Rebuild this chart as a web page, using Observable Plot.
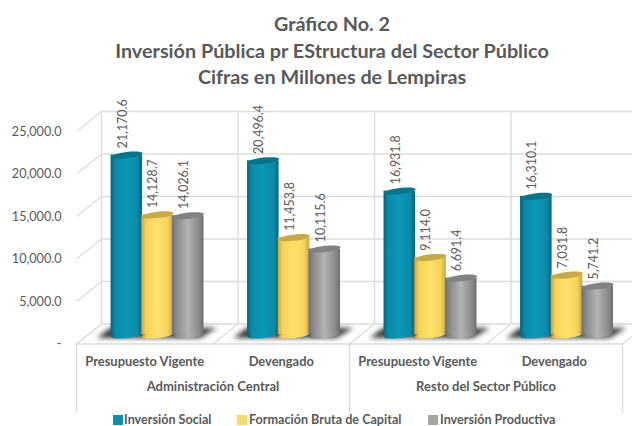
<!DOCTYPE html>
<html lang="es">
<head>
<meta charset="utf-8">
<script src="https://cdn.jsdelivr.net/npm/d3@7"></script>
<script src="https://cdn.jsdelivr.net/npm/@observablehq/plot@0.6"></script>
<style>
html,body{margin:0;padding:0;background:#fff;width:632px;height:426px;overflow:hidden;font-family:Lato,sans-serif;color:#595959}
#title{height:90px;box-sizing:border-box;padding-top:10px;padding-left:32px;text-align:center;font-weight:700;font-size:19.8px;line-height:26.5px}
#chart{height:323px}
#chart svg{display:block}
#legend{position:relative;height:13px;font-size:12.6px;line-height:13px;font-weight:700;white-space:nowrap}
#legend span{position:absolute;top:0}
#legend i{position:absolute;top:2px;width:10px;height:10px}
</style>
</head>
<body>
<div id="title">Gráfico No. 2<br>Inversión Pública pr EStructura del Sector Público<br>Cifras en Millones de Lempiras</div>
<div id="chart"></div>
<div id="legend"></div>
<script>
const groups = ["Administración Central", "Resto del Sector Público"];
const categories = ["Presupuesto Vigente", "Devengado", "Presupuesto Vigente", "Devengado"];
const seriesNames = ["Inversión Social", "Formación Bruta de Capital", "Inversión Productiva"];
const inversionSocial = [21170.6, 20496.4, 16931.8, 16310.1];
const formacionBruta = [14128.7, 11453.8, 9114.0, 7031.8];
const inversionProductiva = [14026.1, 10115.6, 6691.4, 5741.2];
const yTicks = [0, 5000, 10000, 15000, 20000, 25000];

const seriesValues = [inversionSocial, formacionBruta, inversionProductiva];
const legendColors = ["#0f8fae", "#ffd966", "#a5a5a5"];
const topColors = ["#05758c", "#c9a945", "#828282"];
const legendPos = [[113,124],[237,249],[428,440]];

const fmt = d3.format(",.1f");
const depthX = 25 / 136.5, depthY = 20 / 0.0085;   // 3D depth in data units
const barLift = 11 / 0.0085;                        // bars stand inside the floor
const records = seriesValues.flatMap((vals, s) => vals.map((v, c) => ({
  s, c, v,
  x1: c + 0.07 + s * 0.225,
  x2: c + 0.07 + s * 0.225 + 0.231,
  xm: c + 0.07 + s * 0.225 + 0.1155,
  base: -barLift,
  top: v - barLift
})));
const cols = d3.range(5);
const gridYs = yTicks;

const ellipse = {
  draw(ctx, size) {
    const rx = Math.sqrt(size / Math.PI), ry = rx * 0.2, k = 0.5523, t = -0.11;
    const P = (a, b) => [a, b + t * a];
    ctx.moveTo(...P(-rx, 0));
    ctx.bezierCurveTo(...P(-rx, -k * ry), ...P(-k * rx, -ry), ...P(0, -ry));
    ctx.bezierCurveTo(...P(k * rx, -ry), ...P(rx, -k * ry), ...P(rx, 0));
    ctx.bezierCurveTo(...P(rx, k * ry), ...P(k * rx, ry), ...P(0, ry));
    ctx.bezierCurveTo(...P(-k * rx, ry), ...P(-rx, k * ry), ...P(-rx, 0));
    ctx.closePath();
  }
};

const grid = "#dcdcdc";
const shadow = d3.range(4).flatMap(c => [
  {c, y: -530, x1: c + 0.066, x2: c + 0.85},
  {c, y: -1706, x1: c - 0.03, x2: c + 0.725}
]);

const barMarks = [0, 1, 2].flatMap(s => {
  const d = records.filter(r => r.s === s);
  return [
    Plot.dot(d, {x: "xm", y: "base", symbol: ellipse, r: 15.8, fill: `url(#g${s})`, stroke: "none"}),
    Plot.rect(d, {x1: "x1", x2: "x2", y1: "base", y2: "top", fill: `url(#g${s})`, inset: 0}),
    Plot.dot(d, {x: "xm", y: "top", symbol: ellipse, r: 15.8, fill: topColors[s], stroke: "none"})
  ];
});

const plot = Plot.plot({
  width: 632,
  height: 323,
  marginLeft: 65, marginRight: 0, marginTop: 0, marginBottom: 0,
  style: {fontFamily: "Lato, sans-serif", color: "#595959", background: "transparent", overflow: "hidden"},
  x: {type: "linear", domain: [0, 4], range: [101, 647], axis: null},
  y: {type: "linear", domain: [0, 25000], range: [233.5, 21], clamp: false},
  marks: [
    // back wall
    Plot.ruleY(gridYs, {x1: 0, x2: 4, stroke: grid, strokeWidth: 1.4}),
    Plot.ruleX(cols, {y1: 0, y2: 25000, stroke: grid, strokeWidth: 1.4}),
    // left wall diagonals
    Plot.link(gridYs, {x1: 0, x2: -depthX, y1: d => d, y2: d => d - depthY, stroke: grid, strokeWidth: 1.2}),
    // floor
    Plot.link(cols, {x1: d => d, x2: d => d - depthX, y1: 0, y2: -depthY, stroke: grid, strokeWidth: 1.2}),
    Plot.ruleY([-depthY], {x1: -depthX, x2: 4 - depthX, stroke: grid, strokeWidth: 1.4}),
    // lower category dividers
    Plot.ruleX([0, 2, 4], {x: d => d - depthX, y1: -depthY, y2: -depthY - 70 / 0.0085, stroke: grid, strokeWidth: 1.4}),
    // floor shadows
    Plot.areaX(shadow, {x1: "x1", x2: "x2", y: "y", z: "c", fill: "#3a3a3a", imageFilter: "blur(2.5px)"}),
    // cylinders
    ...barMarks,
    // value labels
    Plot.text(records, {
      x: d => d.xm - 0.03,
      y: d => d.top + 800,
      text: d => fmt(d.v),
      rotate: -90,
      textAnchor: "start",
      fontSize: 12.4,
      fill: "#595959"
    }),
    // y axis on the front plane
    Plot.axisY({
      ticks: yTicks,
      tickSize: 0,
      tickPadding: 4,
      dy: 20,
      label: null,
      fontSize: 12.6,
      tickFormat: d => d === 0 ? "-" : fmt(d)
    }),
    // category labels
    Plot.text(categories, {
      x: (d, i) => i + 0.5 - depthX,
      y: -depthY - 18 / 0.0085,
      text: d => d,
      fontSize: 12.9,
      fontWeight: 700,
      fill: "#595959"
    }),
    Plot.text(groups, {
      x: (d, i) => i * 2 + 1 - depthX,
      y: -depthY - 43 / 0.0085,
      text: d => d,
      fontSize: 13,
      fontWeight: 700,
      fill: "#595959"
    })
  ]
});

const defs = d3.select(plot).insert("defs", ":first-child");
[["#04657c", "#0c98b7", "#0a8aa8"], ["#c9a441", "#ffe36e", "#f5d257"], ["#6f6f6f", "#b4b4b4", "#8a8a8a"]].forEach((c, i) => {
  const g = defs.append("linearGradient").attr("id", `g${i}`).attr("x1", 0).attr("x2", 1).attr("y1", 0).attr("y2", 0);
  [[0, c[0]], [0.15, c[2]], [0.5, c[1]], [0.85, c[2]], [1, c[0]]].forEach(([o, col]) =>
    g.append("stop").attr("offset", o).attr("stop-color", col));
});
document.getElementById("chart").append(plot);

const legend = d3.select("#legend");
seriesNames.forEach((n, i) => {
  legend.append("i").style("left", legendPos[i][0] + "px").style("background", legendColors[i]);
  legend.append("span").style("left", legendPos[i][1] + "px").text(n);
});
</script>
</body>
</html>
